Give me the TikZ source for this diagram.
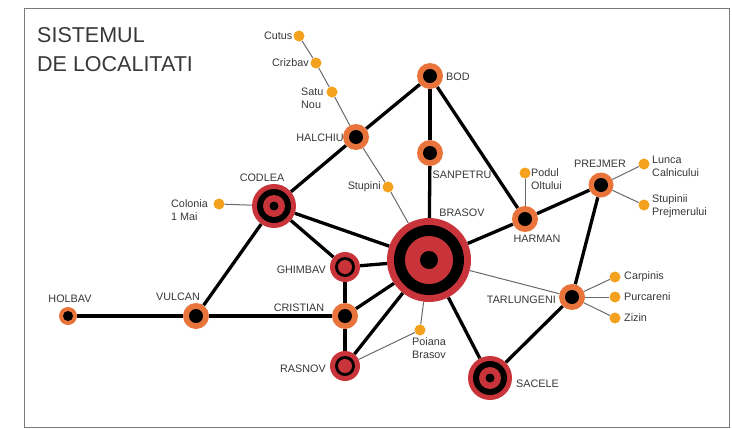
\documentclass[tikz,border=0pt]{standalone}
\usepackage{fontspec}
\setmainfont{Liberation Sans}
\definecolor{orangeC}{HTML}{E8743C}
\definecolor{redC}{HTML}{C9343B}
\definecolor{dotC}{HTML}{F4A11D}
\definecolor{txt}{HTML}{383838}
\definecolor{thinC}{HTML}{6A6A6A}
\definecolor{frameC}{HTML}{7A7A7A}
\begin{document}
\begin{tikzpicture}[x=1pt,y=-1pt,
 thickedge/.style={line width=3.3pt, black},
 thinedge/.style={line width=1pt, thinC},
 lbl/.style={font=\fontsize{10.8}{12.8}\selectfont, text=txt, inner sep=0pt, align=left},
 onode/.style 2 args={circle, fill=orangeC, minimum size=#1, inner sep=0pt,
   path picture={\fill[black] (path picture bounding box.center) circle (#2);}},
 rnode/.style n args={4}{circle, fill=redC, minimum size=#1, inner sep=0pt,
   path picture={\fill[black] (path picture bounding box.center) circle (#2);
     \fill[redC] (path picture bounding box.center) circle (#3);
     \fill[black] (path picture bounding box.center) circle (#4);}},
 smalldot/.style={circle, fill=dotC, minimum size=11pt, inner sep=0pt},
]
\useasboundingbox (0,0) rectangle (732,429);
\fill[white] (0,0) rectangle (732,429);
\draw[line width=1pt, frameC] (24,8) rectangle (729,427);

% title
\node[anchor=north west, inner sep=0pt, align=left, text=txt,
      font=\fontsize{21.5}{29}\selectfont] (title) at (37,27.5) {SISTEMUL\\DE LOCALITATI};

% main nodes
\node[onode={26pt}{7pt}] (bod) at (430,76) {};
\node[onode={26pt}{7pt}] (sanpetru) at (430,153) {};
\node[onode={26pt}{7pt}] (halchiu) at (356,137) {};
\node[onode={26pt}{7pt}] (harman) at (525,219) {};
\node[onode={25pt}{7pt}] (prejmer) at (601,185) {};
\node[onode={26pt}{7pt}] (tarlungeni) at (572,297) {};
\node[onode={26pt}{7pt}] (cristian) at (345,316) {};
\node[onode={26pt}{7pt}] (vulcan) at (196,316) {};
\node[onode={18pt}{5pt}] (holbav) at (68,316) {};
\node[rnode={84pt}{35pt}{24pt}{9pt}] (brasov) at (429,260) {};
\node[rnode={44pt}{17pt}{11pt}{4.5pt}] (codlea) at (274,206) {};
\node[rnode={44pt}{17pt}{11pt}{4.5pt}] (sacele) at (490,378) {};
\node[rnode={30pt}{10pt}{7pt}{0pt}] (ghimbav) at (345,267) {};
\node[rnode={30pt}{10pt}{7pt}{0pt}] (rasnov) at (345,366) {};

% small localities
\node[smalldot] (cutus) at (299,36) {};
\node[smalldot] (crizbav) at (316,63) {};
\node[smalldot] (satunou) at (332,92) {};
\node[smalldot] (stupini) at (388,187) {};
\node[smalldot] (colonia) at (219,204) {};
\node[smalldot] (podul) at (525,173) {};
\node[smalldot] (lunca) at (644,164) {};
\node[smalldot] (stupinii) at (644,205) {};
\node[smalldot] (carpinis) at (615,277) {};
\node[smalldot] (purcareni) at (615,297) {};
\node[smalldot] (zizin) at (615,318) {};
\node[smalldot] (poiana) at (420,330) {};

% thin connectors
\draw[thinedge] (cutus) -- (crizbav);
\draw[thinedge] (crizbav) -- (satunou);
\draw[thinedge] (satunou) -- (halchiu);
\draw[thinedge] (halchiu) -- (stupini);
\draw[thinedge] (stupini) -- (brasov);
\draw[thinedge] (colonia) -- (codlea);
\draw[thinedge] (podul) -- (harman);
\draw[thinedge] (prejmer) -- (lunca);
\draw[thinedge] (prejmer) -- (stupinii);
\draw[thinedge] (tarlungeni) -- (carpinis);
\draw[thinedge] (tarlungeni) -- (purcareni);
\draw[thinedge] (tarlungeni) -- (zizin);
\draw[thinedge] (tarlungeni) -- (brasov);
\draw[thinedge] (poiana) -- (brasov);
\draw[thinedge] (poiana) -- (rasnov);

% thick connectors
\draw[thickedge] (holbav) -- (vulcan);
\draw[thickedge] (vulcan) -- (cristian);
\draw[thickedge] (vulcan) -- (codlea);
\draw[thickedge] (codlea) -- (halchiu);
\draw[thickedge] (halchiu) -- (bod);
\draw[thickedge] (bod) -- (sanpetru);
\draw[thickedge] (sanpetru) -- (brasov);
\draw[thickedge] (bod) -- (harman);
\draw[thickedge] (harman) -- (prejmer);
\draw[thickedge] (harman) -- (brasov);
\draw[thickedge] (prejmer) -- (tarlungeni);
\draw[thickedge] (tarlungeni) -- (sacele);
\draw[thickedge] (sacele) -- (brasov);
\draw[thickedge] (codlea) -- (brasov);
\draw[thickedge] (codlea) -- (ghimbav);
\draw[thickedge] (ghimbav) -- (brasov);
\draw[thickedge] (ghimbav) -- (cristian);
\draw[thickedge] (cristian) -- (brasov);
\draw[thickedge] (cristian) -- (rasnov);
\draw[thickedge] (rasnov) -- (brasov);

% labels
\node[lbl, anchor=west] (lbod) at (446,77) {BOD};
\node[lbl] (lsanpetru) at (462,175) {SANPETRU};
\node[lbl] (lbrasov) at (462,213) {BRASOV};
\node[lbl, anchor=east] (lhalchiu) at (344,138) {HALCHIU};
\node[lbl] (lcodlea) at (262,178) {CODLEA};
\node[lbl, anchor=east] (lghimbav) at (326,270) {GHIMBAV};
\node[lbl] (lcristian) at (299,308) {CRISTIAN};
\node[lbl, anchor=east] (lrasnov) at (326,369) {RASNOV};
\node[lbl] (lvulcan) at (178,297) {VULCAN};
\node[lbl] (lholbav) at (70,299) {HOLBAV};
\node[lbl] (lharman) at (537,239) {HARMAN};
\node[lbl] (lprejmer) at (600,164) {PREJMER};
\node[lbl, anchor=east] (ltarlungeni) at (556,300) {TARLUNGENI};
\node[lbl, anchor=west] (lsacele) at (516,384) {SACELE};
\node[lbl, anchor=east] (lcutus) at (292.5,36) {Cutus};
\node[lbl, anchor=east] (lcrizbav) at (309,63) {Crizbav};
\node[lbl, anchor=west] (lsatunou) at (301,98.5) {Satu\\Nou};
\node[lbl, anchor=east] (lstupini) at (381,187) {Stupini};
\node[lbl, anchor=west] (lcolonia) at (171,210.5) {Colonia\\1 Mai};
\node[lbl, anchor=west] (lpodul) at (531,179) {Podul\\Oltului};
\node[lbl, anchor=west] (llunca) at (652,166) {Lunca\\Calnicului};
\node[lbl, anchor=west] (lstupinii) at (652,206) {Stupinii\\Prejmerului};
\node[lbl, anchor=west] (lcarpinis) at (624,277) {Carpinis};
\node[lbl, anchor=west] (lpurcareni) at (624,297) {Purcareni};
\node[lbl, anchor=west] (lzizin) at (624,318) {Zizin};
\node[lbl, anchor=west] (lpoiana) at (412,348.5) {Poiana\\Brasov};
\end{tikzpicture}
\end{document}
